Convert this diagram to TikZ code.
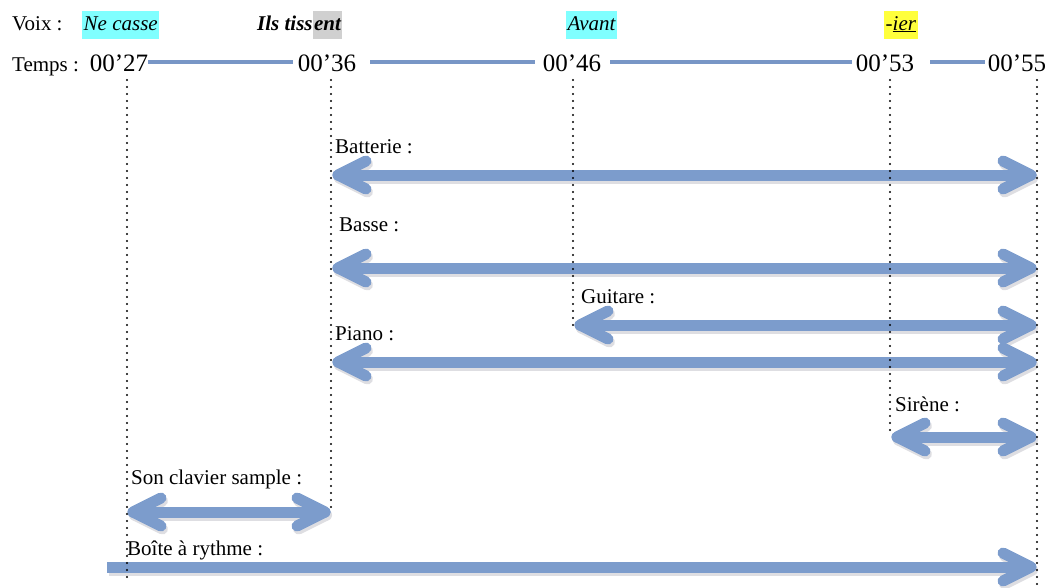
\documentclass[tikz,border=0pt]{standalone}
\usepackage{fontspec}
\setmainfont{Liberation Serif}
\definecolor{arrblue}{RGB}{124,156,204}
\definecolor{lineblue}{RGB}{120,150,198}
\definecolor{shadowgray}{RGB}{222,222,226}
\definecolor{hcyan}{RGB}{128,255,255}
\definecolor{hgray}{RGB}{208,208,208}
\definecolor{hyellow}{RGB}{255,255,60}
% chevron-tipped arrows drawn between named coordinates
\newcommand\headL[2]{\draw[#2] (#1) ++(28,-14) -- (#1) -- ++(28,14);}
\newcommand\headR[2]{\draw[#2] (#1) ++(-28,-14) -- (#1) -- ++(-28,14);}
\newcommand\dblarrow[2]{%
  \begin{scope}[transform canvas={shift={(1.5pt,-3pt)}}]
    \draw[arrshadow] (#1) -- (#2); \headL{#1}{arrshadow}\headR{#2}{arrshadow}
  \end{scope}
  \draw[arr] (#1) -- (#2); \headL{#1}{arr}\headR{#2}{arr}}
\newcommand\sglarrow[2]{%
  \begin{scope}[transform canvas={shift={(1.5pt,-3pt)}}]
    \draw[arrshadow,line cap=butt] (#1) -- (#2); \headR{#2}{arrshadow}
  \end{scope}
  \draw[arr,line cap=butt] (#1) -- (#2); \headR{#2}{arr}}
\begin{document}
\setlength{\fboxsep}{1.5pt}
\begin{tikzpicture}[x=1pt,y=-1pt,
  lbl/.style={anchor=base west, inner sep=0pt, font=\fontsize{21}{25}\selectfont},
  tm/.style={anchor=base, inner sep=0pt, font=\fontsize{25}{30}\selectfont},
  tline/.style={draw=lineblue, line width=4pt},
  vdot/.style={line width=2.2pt, line cap=round, dash pattern=on 0pt off 7pt},
  arr/.style={draw=arrblue, line width=11pt, line cap=round, line join=round},
  arrshadow/.style={draw=shadowgray, line width=11pt, line cap=round, line join=round}]
\useasboundingbox (0,0) rectangle (1052,587);

% Voix row
\node[lbl] (voix) at (12,30) {Voix :};
\node[lbl] (v1) at (82,30) {\colorbox{hcyan}{\itshape\strut Ne casse}};
\node[lbl] (v2) at (257,30) {\bfseries\itshape Ils tiss\colorbox{hgray}{\strut ent}};
\node[lbl] (v3) at (566,30) {\colorbox{hcyan}{\itshape\strut Avant}};
\node[lbl] (v4) at (884,30) {\colorbox{hyellow}{\itshape\strut -\underline{ier}}};

% Temps row
\node[lbl] (temps) at (12,71) {Temps :};
\node[tm] (t27) at (119,71) {00’27};
\node[tm] (t36) at (327,71) {00’36};
\node[tm] (t46) at (572,71) {00’46};
\node[tm] (t53) at (885,71) {00’53};
\node[tm] (t55) at (1017,71) {00’55};
\draw[tline] (148,62) -- (293,62);
\draw[tline] (370,62) -- (535,62);
\draw[tline] (610,62) -- (852,62);
\draw[tline] (930,62) -- (985,62);

% dotted verticals
\coordinate (d27) at (127,80);
\coordinate (d36) at (331,80);
\coordinate (d46) at (573,80);
\coordinate (d53) at (890,80);
\coordinate (d55) at (1037,80);

% Batterie
\node[lbl] (lbat) at (335,153) {Batterie :};
\coordinate (bat1) at (338,175);
\coordinate (bat2) at (1031,175);
\dblarrow{bat1}{bat2}

% Basse
\node[lbl] (lbas) at (339,231) {Basse :};
\coordinate (bas1) at (338,268);
\coordinate (bas2) at (1031,268);
\dblarrow{bas1}{bas2}

% Guitare
\node[lbl] (lgui) at (581,303) {Guitare :};
\coordinate (gui1) at (580,325);
\coordinate (gui2) at (1031,325);
\dblarrow{gui1}{gui2}

% Piano
\node[lbl] (lpia) at (335,340) {Piano :};
\coordinate (pia1) at (338,362);
\coordinate (pia2) at (1031,362);
\dblarrow{pia1}{pia2}

% Sirene
\node[lbl] (lsir) at (895,411) {Sirène :};
\coordinate (sir1) at (897,437);
\coordinate (sir2) at (1031,437);
\dblarrow{sir1}{sir2}

% Son clavier sample
\node[lbl] (lson) at (131,484) {Son clavier sample :};
\coordinate (son1) at (133,512);
\coordinate (son2) at (325,512);
\dblarrow{son1}{son2}

% Boite a rythme
\node[lbl] (lboi) at (127,555) {Boîte à rythme :};
\coordinate (boi1) at (107,567);
\coordinate (boi2) at (1031,567);
\sglarrow{boi1}{boi2}

\draw[vdot] (d27) -- (127,578);
\draw[vdot] (d36) -- (331,512);
\draw[vdot] (d46) -- (573,326);
\draw[vdot] (d53) -- (890,437);
\draw[vdot] (d55) -- (1037,585);
\end{tikzpicture}
\end{document}
